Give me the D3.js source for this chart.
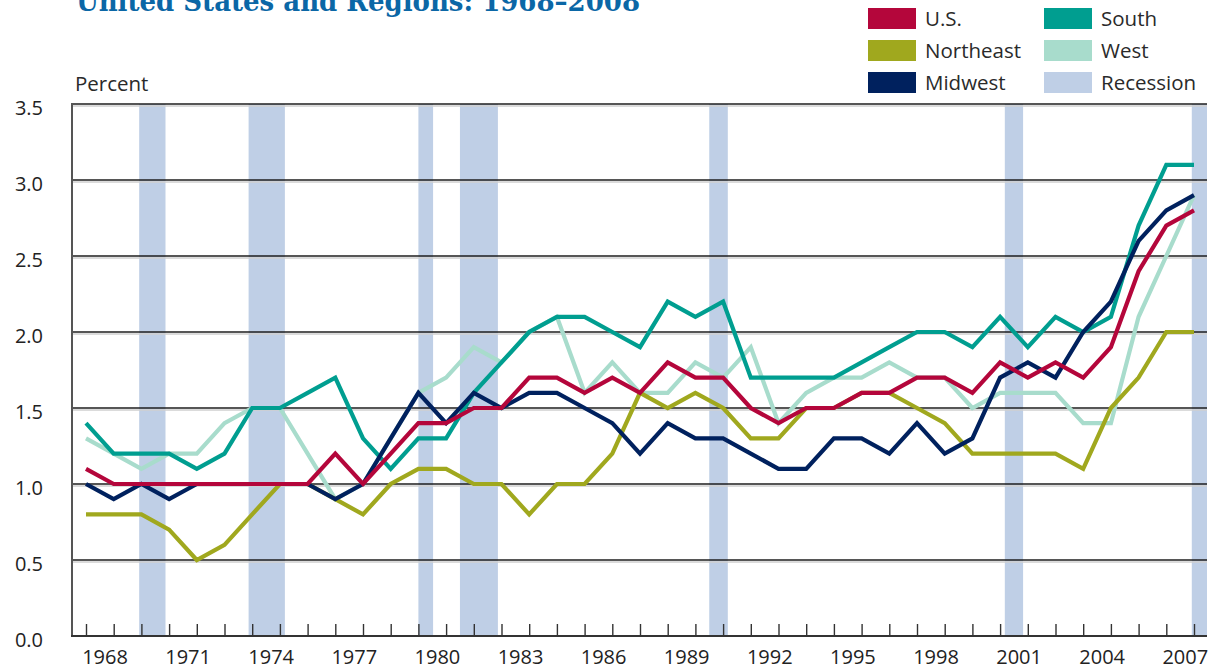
<!DOCTYPE html>
<html><head><meta charset="utf-8">
<script src="https://cdn.jsdelivr.net/npm/d3@7"></script>
<style>body{margin:0;background:#fff}svg{display:block}</style>
</head><body>
<svg id="chart" width="1211" height="669"></svg>
<script>
const years = [1968,1969,1970,1971,1972,1973,1974,1975,1976,1977,1978,1979,1980,1981,1982,1983,1984,1985,1986,1987,1988,1989,1990,1991,1992,1993,1994,1995,1996,1997,1998,1999,2000,2001,2002,2003,2004,2005,2006,2007,2008];
const usValues =        [1.1,1.0,1.0,1.0,1.0,1.0,1.0,1.0,1.0,1.2,1.0,1.2,1.4,1.4,1.5,1.5,1.7,1.7,1.6,1.7,1.6,1.8,1.7,1.7,1.5,1.4,1.5,1.5,1.6,1.6,1.7,1.7,1.6,1.8,1.7,1.8,1.7,1.9,2.4,2.7,2.8];
const northeastValues = [0.8,0.8,0.8,0.7,0.5,0.6,0.8,1.0,1.0,0.9,0.8,1.0,1.1,1.1,1.0,1.0,0.8,1.0,1.0,1.2,1.6,1.5,1.6,1.5,1.3,1.3,1.5,1.5,1.6,1.6,1.5,1.4,1.2,1.2,1.2,1.2,1.1,1.5,1.7,2.0,2.0];
const midwestValues =   [1.0,0.9,1.0,0.9,1.0,1.0,1.0,1.0,1.0,0.9,1.0,1.3,1.6,1.4,1.6,1.5,1.6,1.6,1.5,1.4,1.2,1.4,1.3,1.3,1.2,1.1,1.1,1.3,1.3,1.2,1.4,1.2,1.3,1.7,1.8,1.7,2.0,2.2,2.6,2.8,2.9];
const southValues =     [1.4,1.2,1.2,1.2,1.1,1.2,1.5,1.5,1.6,1.7,1.3,1.1,1.3,1.3,1.6,1.8,2.0,2.1,2.1,2.0,1.9,2.2,2.1,2.2,1.7,1.7,1.7,1.7,1.8,1.9,2.0,2.0,1.9,2.1,1.9,2.1,2.0,2.1,2.7,3.1,3.1];
const westValues =      [1.3,1.2,1.1,1.2,1.2,1.4,1.5,1.5,1.2,0.9,1.0,1.3,1.6,1.7,1.9,1.8,2.0,2.1,1.6,1.8,1.6,1.6,1.8,1.7,1.9,1.4,1.6,1.7,1.7,1.8,1.7,1.7,1.5,1.6,1.6,1.6,1.4,1.4,2.1,2.5,2.9];
const recessions = [[1969.92,1970.87],[1973.87,1975.18],[1980.0,1980.53],[1981.5,1982.87],[1990.5,1991.17],[2001.17,2001.83],[2007.92,2009.5]];
const xTickLabels = ["1968","1971","1974","1977","1980","1983","1986","1989","1992","1995","1998","2001","2004","2007"];
const yTicks = [0,0.5,1.0,1.5,2.0,2.5,3.0,3.5];
const seriesNames = ["U.S.","Northeast","Midwest","South","West"];
const seriesColors = ["#b4063b","#a0a81e","#00215e","#009e90","#a8dccc"];
const recessionColor = "#bfcfe6";

const svg = d3.select("#chart");
const plotLeft = 72, plotRight = 1207, plotTop = 104, plotBottom = 636;
const x = d3.scaleLinear().domain([1968, 2008]).range([86, 1194]);
const y = d3.scaleLinear().domain([0, 3.5]).range([plotBottom, plotTop]);
const font = "'Open Sans', 'Noto Sans', sans-serif";

// Title (cropped at top, as in the reference)
svg.append("text").attr("x", 76).attr("y", 11)
  .attr("font-family", "'DejaVu Serif', serif").attr("font-weight", "bold")
  .attr("font-size", 28).attr("fill", "#0b67a6")
  .attr("textLength", 564).attr("lengthAdjust", "spacingAndGlyphs")
  .text("United States and Regions: 1968\u20132008");

svg.append("text").attr("x", 75).attr("y", 91).attr("font-family", font)
  .attr("font-size", 20.5).attr("fill", "#2a2a2a").text("Percent");

svg.append("clipPath").attr("id", "clip").append("rect")
  .attr("x", plotLeft).attr("y", plotTop - 2).attr("width", plotRight - plotLeft).attr("height", plotBottom - plotTop + 2);

// recession bars
svg.append("g").attr("clip-path", "url(#clip)").selectAll("rect").data(recessions).join("rect")
  .attr("x", d => x(d[0])).attr("width", d => Math.min(x(d[1]), plotRight) - x(d[0]))
  .attr("y", plotTop).attr("height", plotBottom - plotTop).attr("fill", recessionColor);

// gridlines
const grid = svg.append("g");
yTicks.filter(v => v > 0).forEach(v => {
  grid.append("line").attr("x1", plotLeft).attr("x2", plotRight).attr("y1", y(v) + 2).attr("y2", y(v) + 2)
    .attr("stroke", "#cfcfcf").attr("stroke-width", 1.6);
  grid.append("line").attr("x1", plotLeft).attr("x2", plotRight).attr("y1", y(v)).attr("y2", y(v))
    .attr("stroke", "#1e1e1e").attr("stroke-width", 1.5);
});

// y labels
svg.append("g").selectAll("text").data(yTicks).join("text")
  .attr("x", 43).attr("y", d => y(d) + 3).attr("text-anchor", "end").attr("dominant-baseline", "central")
  .attr("font-family", font).attr("font-size", 20).attr("fill", "#222")
  .text(d => d3.format(".1f")(d));

// x axis ticks
const xAxis = d3.axisBottom(x).tickValues(years).tickSize(-12).tickFormat("");
const gx = svg.append("g").attr("transform", `translate(0,${plotBottom})`).call(xAxis);
gx.select(".domain").remove();
gx.selectAll(".tick line").attr("stroke", "#333").attr("stroke-width", 1.4);

// x labels
svg.append("g").selectAll("text").data(xTickLabels).join("text")
  .attr("x", d => x(+d) + 19).attr("y", 664).attr("text-anchor", "middle")
  .attr("font-family", font).attr("font-size", 20).attr("fill", "#222").text(d => d);

// axis lines
svg.append("line").attr("x1", plotLeft).attr("x2", plotLeft).attr("y1", plotTop - 1).attr("y2", plotBottom + 1)
  .attr("stroke", "#555").attr("stroke-width", 2);
svg.append("line").attr("x1", plotLeft - 1).attr("x2", plotRight).attr("y1", plotBottom).attr("y2", plotBottom)
  .attr("stroke", "#333").attr("stroke-width", 2);

// series lines
const allSeries = [usValues, northeastValues, midwestValues, southValues, westValues];
const drawOrder = [4, 3, 1, 2, 0];
const line = d3.line().x((d, i) => x(years[i])).y(d => y(d));
svg.append("g").selectAll("path").data(drawOrder).join("path")
  .attr("d", i => line(allSeries[i])).attr("fill", "none")
  .attr("stroke", i => seriesColors[i]).attr("stroke-width", 4.2)
  .attr("stroke-linejoin", "miter").attr("stroke-miterlimit", 4);

// legend
const legendItems = [
  {name: seriesNames[0], color: seriesColors[0], col: 0, row: 0},
  {name: seriesNames[1], color: seriesColors[1], col: 0, row: 1},
  {name: seriesNames[2], color: seriesColors[2], col: 0, row: 2},
  {name: seriesNames[3], color: seriesColors[3], col: 1, row: 0},
  {name: seriesNames[4], color: seriesColors[4], col: 1, row: 1},
  {name: "Recession", color: recessionColor, col: 1, row: 2}
];
const lg = svg.append("g").selectAll("g").data(legendItems).join("g")
  .attr("transform", d => `translate(${d.col ? 1044 : 868},${8 + d.row * 32})`);
lg.append("rect").attr("width", 48).attr("height", 21).attr("fill", d => d.color);
lg.append("text").attr("x", 57).attr("y", 18).attr("font-family", font).attr("font-size", 20.5)
  .attr("fill", "#2a2a2a").text(d => d.name);
</script>
</body></html>
